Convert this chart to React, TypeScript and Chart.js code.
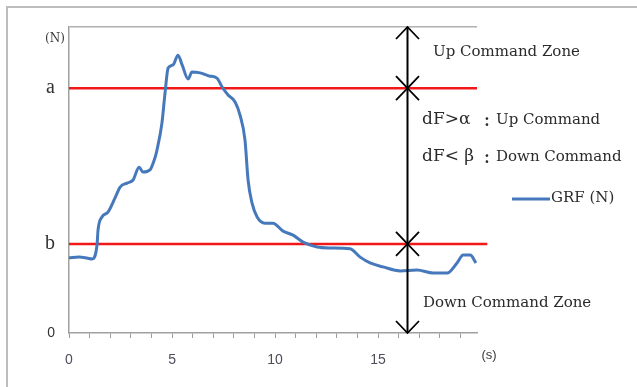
import { useEffect, useRef } from 'react';
import { Chart, registerables } from 'chart.js';

Chart.register(...registerables);

// ---- data ----
const timeS = [0, 0.5, 0.87, 1.12, 1.36, 1.41, 1.6, 1.89, 2.23, 2.48, 2.82, 3.11, 3.4, 3.59, 3.93, 4.17, 4.27, 4.51, 4.66, 4.81, 5.05, 5.29, 5.49, 5.78, 5.97, 6.36, 6.8, 7.18, 7.43, 7.72, 8.06, 8.3, 8.54, 8.69, 8.88, 9.13, 9.51, 9.9, 10.39, 10.87, 11.36, 12.04, 12.67, 13.64, 14.13, 14.61, 15.24, 16.07, 16.89, 17.67, 18.35, 18.83, 19.13, 19.47, 19.75];
const grfN = [24.6, 24.8, 24.5, 24.2, 28.8, 33.7, 37.9, 39.5, 44.1, 47.7, 49, 50, 54.2, 52.6, 53.3, 57.2, 59.8, 68.6, 78.4, 86.6, 87.6, 90.8, 87.6, 83, 85.3, 85, 84, 83.3, 80.4, 77.8, 75.5, 71.2, 63.1, 50, 42.5, 37.9, 35.9, 35.9, 33.3, 32, 29.7, 28.1, 27.8, 27.5, 24.8, 22.9, 21.6, 20.3, 20.6, 19.6, 19.6, 22.9, 25.5, 25.5, 22.9];

const levelA = 80;
const levelB = 29.1;
const yMax = 100;
const xMax = 19.8;
const lineAEnd = 19.8;
const lineBEnd = 20.3;
const arrowTime = 16.4;

const xTickValues = [0, 1, 2, 3, 4, 5, 6, 7, 8, 9, 10, 11, 12, 13, 14, 15, 16, 17, 18, 19];
const xTickLabelEvery = 5;
const yTickValues = [0, levelB, levelA, yMax];
const yTickLabels = ['0', 'b', 'a', ''];

const seriesLabel = 'GRF (N)';
const yUnitLabel = '(N)';
const xUnitLabel = '(s)';
const upZoneText = 'Up Command Zone';
const downZoneText = 'Down Command Zone';
const upCondLeft = 'dF>\u03B1';
const downCondLeft = 'dF< \u03B2';
const upCondRight = 'Up Command';
const downCondRight = 'Down Command';

const BLUE = '#4679bb';
const RED = '#f21818';
const SERIF = '"DejaVu Serif", serif';

const overlay = {
  id: 'overlay',
  afterDraw(chart: any) {
    const { ctx, scales } = chart;
    const x = scales.x;
    const y = scales.y;
    ctx.save();

    // outer frame (top + left)
    ctx.strokeStyle = '#bdbdbd';
    ctx.lineWidth = 2;
    ctx.beginPath();
    ctx.moveTo(7, 387);
    ctx.lineTo(7, 7);
    ctx.lineTo(637, 7);
    ctx.stroke();

    // unit labels
    ctx.fillStyle = '#3a3a3a';
    ctx.textBaseline = 'middle';
    ctx.textAlign = 'center';
    ctx.font = `12px ${SERIF}`;
    ctx.fillText(yUnitLabel, 55, y.getPixelForValue(yMax) + 12);
    ctx.font = '13px "Liberation Sans", sans-serif';
    ctx.fillText(xUnitLabel, x.right + 12, y.bottom + 22);

    // vertical arrow
    const ax = Math.round(x.getPixelForValue(arrowTime)) + 0.5;
    const yTop = y.getPixelForValue(yMax);
    const yA = y.getPixelForValue(levelA);
    const yB = y.getPixelForValue(levelB);
    const y0 = y.getPixelForValue(0);
    ctx.strokeStyle = '#000';
    ctx.lineWidth = 2;
    ctx.beginPath();
    ctx.moveTo(ax, yTop);
    ctx.lineTo(ax, y0);
    ctx.stroke();
    const head = (py: number, dir: number) => {
      // dir = -1 : pointing up, dir = 1 : pointing down
      ctx.beginPath();
      ctx.moveTo(ax - 11.5, py - dir * 12);
      ctx.lineTo(ax, py);
      ctx.lineTo(ax + 11.5, py - dir * 12);
      ctx.stroke();
    };
    ctx.lineWidth = 1.8;
    head(yTop, -1);
    head(yA, 1);
    head(yA, -1);
    head(yB, 1);
    head(yB, -1);
    head(y0, 1);

    // annotation texts
    ctx.fillStyle = '#2b2b2b';
    ctx.textAlign = 'left';
    ctx.font = `15px ${SERIF}`;
    ctx.fillText(upZoneText, 433, 52);
    ctx.fillText(downZoneText, 423, 303);

    ctx.font = `17px ${SERIF}`;
    ctx.fillText(upCondLeft, 422, 120);
    ctx.fillText(downCondLeft, 422, 157);
    ctx.font = 'bold 15px "Noto Sans CJK JP", sans-serif';
    ctx.textAlign = 'center';
    ctx.fillText(':', 487, 120);
    ctx.fillText(':', 487, 157);
    ctx.textAlign = 'left';
    ctx.font = `15px ${SERIF}`;
    ctx.fillText(upCondRight, 496, 120);
    ctx.fillText(downCondRight, 496, 157);

    // legend
    ctx.strokeStyle = BLUE;
    ctx.lineWidth = 3;
    ctx.beginPath();
    ctx.moveTo(512, 199);
    ctx.lineTo(550, 199);
    ctx.stroke();
    ctx.font = `15px ${SERIF}`;
    ctx.fillStyle = '#2b2b2b';
    ctx.fillText(seriesLabel, 551, 198);

    ctx.restore();
  },
};

export default function App() {
  const ref = useRef<HTMLCanvasElement | null>(null);

  useEffect(() => {
    if (!ref.current) return;
    const chart = new Chart(ref.current, {
      type: 'line',
      data: {
        datasets: [
          {
            label: seriesLabel,
            data: timeS.map((t, i) => ({ x: t, y: grfN[i] })),
            borderColor: BLUE,
            borderWidth: 3,
            pointRadius: 0,
            cubicInterpolationMode: 'monotone',
            fill: false,
            order: 0,
          },
          {
            label: 'a',
            data: [{ x: 0, y: levelA }, { x: lineAEnd, y: levelA }],
            borderColor: RED,
            borderWidth: 2.5,
            pointRadius: 0,
            clip: false,
            order: 1,
          },
          {
            label: 'b',
            data: [{ x: 0, y: levelB }, { x: lineBEnd, y: levelB }],
            borderColor: RED,
            borderWidth: 2.5,
            pointRadius: 0,
            clip: false,
            order: 1,
          },
        ],
      },
      options: {
        responsive: false,
        animation: false,
        layout: { padding: { left: 0, top: 27, right: 160, bottom: 0 } },
        plugins: { legend: { display: false }, tooltip: { enabled: false } },
        scales: {
          x: {
            type: 'linear',
            min: 0,
            max: xMax,
            afterBuildTicks: (axis: any) => {
              axis.ticks = xTickValues.map((v) => ({ value: v }));
            },
            afterFit: (axis: any) => {
              axis.height = 54;
            },
            ticks: {
              autoSkip: false,
              maxRotation: 0,
              padding: 14,
              color: '#4d4d5c',
              font: { family: '"Liberation Sans", sans-serif', size: 14 },
              callback: (v: any) => (Number(v) % xTickLabelEvery === 0 ? String(v) : ''),
            },
            grid: { drawOnChartArea: false, tickLength: 5, color: '#9a9a9a', lineWidth: 1 },
            border: { display: true, color: '#a0a0a0', width: 1.5 },
          },
          y: {
            type: 'linear',
            min: 0,
            max: yMax,
            afterBuildTicks: (axis: any) => {
              axis.ticks = yTickValues.map((v) => ({ value: v }));
            },
            afterFit: (axis: any) => {
              axis.width = 69;
            },
            ticks: {
              autoSkip: false,
              padding: 14,
              color: '#333',
              callback: (_v: any, i: number) => yTickLabels[i],
              font: (c: any) =>
                c.tick && c.tick.value === 0
                  ? { family: '"Liberation Sans", sans-serif', size: 14 }
                  : { family: '"Liberation Serif", serif', size: 20 },
            },
            grid: {
              drawTicks: false,
              color: (c: any) => (c.tick && c.tick.value === yMax ? '#b0b0b0' : 'rgba(0,0,0,0)'),
              lineWidth: 1.5,
            },
            border: { display: true, color: '#a0a0a0', width: 1.5 },
          },
        },
      } as any,
      plugins: [overlay],
    });
    return () => chart.destroy();
  }, []);

  return (
    <div style={{ position: 'fixed', left: 0, top: 0, width: 637, height: 387, background: '#fff' }}>
      <canvas ref={ref} width={637} height={387} style={{ display: 'block' }} />
    </div>
  );
}
